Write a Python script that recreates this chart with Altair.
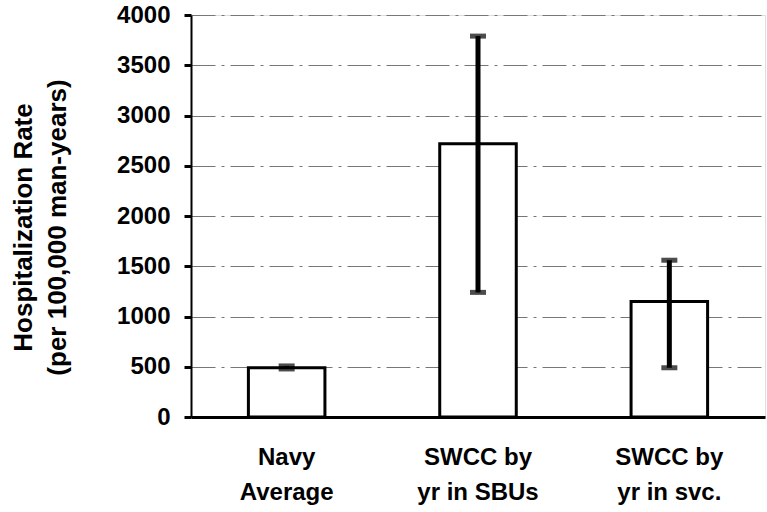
import altair as alt
import pandas as pd

categories = ["Navy\nAverage", "SWCC by\nyr in SBUs", "SWCC by\nyr in svc."]
rates = [490, 2720, 1150]
err_low = [478, 1240, 490]
err_high = [508, 3790, 1560]
y_ticks = [0, 500, 1000, 1500, 2000, 2500, 3000, 3500, 4000]

df = pd.DataFrame({"cat": categories, "rate": rates, "lo": err_low, "hi": err_high})

FONT = "Liberation Sans"

x = alt.X("cat:N", sort=categories,
          scale=alt.Scale(paddingInner=0.6, paddingOuter=0.3),
          axis=alt.Axis(title=None, labelAngle=0, labelFontSize=24, labelFontWeight="bold",
                        labelFont=FONT, labelColor="black", labelPadding=28, labelLineHeight=35,
                        labelExpr="split(datum.label, '\\n')", ticks=False,
                        domainColor="black", domainWidth=3, labelBaseline="top"))

bars = alt.Chart(df).mark_bar(fill="white", stroke="black", strokeWidth=3).encode(
    x=x,
    y=alt.Y("rate:Q", scale=alt.Scale(domain=[0, 4000]),
            axis=alt.Axis(values=y_ticks, format="d",
                          title=["Hospitalization Rate", "(per 100,000 man-years)"],
                          titleFontSize=26, titleFontWeight="bold", titleFont=FONT, titleColor="black",
                          titleLineHeight=34, titleAngle=-90, titleAlign="center",
                          titleBaseline="middle", titleX=-168, titleY=212,
                          labelFontSize=24, labelFontWeight="bold", labelFont=FONT, labelColor="black",
                          labelPadding=14, tickColor="black", tickWidth=3, tickSize=7,
                          domainColor="black", domainWidth=2,
                          grid=True, gridColor="#777777", gridDash=[24, 6, 3, 6], gridWidth=1.2))
)

rules = alt.Chart(df).mark_rule(color="black", strokeWidth=5).encode(
    x=alt.X("cat:N", sort=categories), y="lo:Q", y2="hi:Q")
cap_lo = alt.Chart(df).mark_tick(color="black", thickness=5, size=16, orient="horizontal").encode(
    x=alt.X("cat:N", sort=categories), y="lo:Q")
cap_hi = alt.Chart(df).mark_tick(color="black", thickness=5, size=16, orient="horizontal").encode(
    x=alt.X("cat:N", sort=categories), y="hi:Q")

chart = alt.layer(bars, rules, cap_lo, cap_hi).properties(
    width=574, height=402,
    autosize=alt.AutoSizeParams(type="none"),
    padding={"left": 191, "top": 15, "right": 2, "bottom": 95},
).configure_view(stroke="black", strokeWidth=1.5).configure(background="white")

chart.save("out.html", embed_options={"renderer": "svg", "actions": False})
